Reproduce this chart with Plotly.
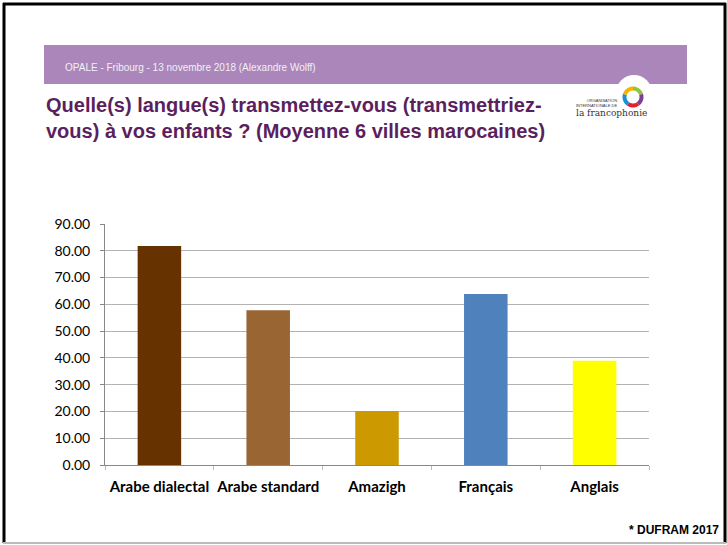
import math
import plotly.graph_objects as go

categories = ["Arabe dialectal", "Arabe standard", "Amazigh", "Français", "Anglais"]
values = [81.8, 57.8, 20.2, 63.9, 38.9]
colors = ["#663300", "#996633", "#CC9900", "#4F81BD", "#FFFF00"]
y_ticks = [0, 10, 20, 30, 40, 50, 60, 70, 80, 90]
y_tick_labels = ["%.2f" % v for v in y_ticks]

W, H = 727, 545
L, R, T, B = 105, 649, 224, 465  # plot area in pixels


def px(x):
    return (x - L) / (R - L)


def py(y):
    return (B - y) / (B - T)


fig = go.Figure()
fig.add_trace(go.Bar(x=categories, y=values, marker=dict(color=colors, line=dict(width=0)),
                     width=0.4, showlegend=False, hoverinfo="x+y"))

shapes = []
# page frame
shapes.append(dict(type="line", xref="paper", yref="paper", x0=px(4), x1=px(4), y0=py(3), y1=py(543),
                   line=dict(color="black", width=3)))
shapes.append(dict(type="line", xref="paper", yref="paper", x0=px(3), x1=px(726), y0=py(4), y1=py(4),
                   line=dict(color="black", width=3)))
shapes.append(dict(type="line", xref="paper", yref="paper", x0=px(725), x1=px(725), y0=py(3), y1=py(543),
                   line=dict(color="black", width=3)))
shapes.append(dict(type="line", xref="paper", yref="paper", x0=px(3), x1=px(726), y0=py(543), y1=py(543),
                   line=dict(color="#bbbbbb", width=2)))
# purple band
shapes.append(dict(type="rect", xref="paper", yref="paper", x0=px(44), x1=px(687), y0=py(45), y1=py(84),
                   fillcolor="#AA86BA", line=dict(width=0), layer="below"))
# white bump for logo
shapes.append(dict(type="circle", xref="paper", yref="paper", x0=px(616), x1=px(652), y0=py(75), y1=py(111),
                   fillcolor="white", line=dict(width=0), layer="below"))

# logo ring (decorative)
ring_colors = ["#8DC63F", "#7B3F98", "#E4202E", "#1C8FD0", "#F7B200"]
cx, cy, r_out, r_in = 633, 97, 10.5, 6.5
for i, col in enumerate(ring_colors):
    a0 = -90 + i * 72
    a1 = a0 + 72
    pts_out = []
    pts_in = []
    for k in range(13):
        a = math.radians(a0 + (a1 - a0) * k / 12)
        pts_out.append((px(cx + r_out * math.cos(a)), py(cy + r_out * math.sin(a))))
        a = math.radians(a1 - (a1 - a0) * k / 12)
        pts_in.append((px(cx + r_in * math.cos(a)), py(cy + r_in * math.sin(a))))
    pts = pts_out + pts_in
    path = "M " + " L ".join("%.5f,%.5f" % p for p in pts) + " Z"
    shapes.append(dict(type="path", xref="paper", yref="paper", path=path, fillcolor=col,
                       line=dict(width=0)))

annotations = [
    dict(text="OPALE - Fribourg - 13 novembre 2018 (Alexandre Wolff)", x=px(63), y=py(67), xref="paper", yref="paper",
         xanchor="left", yanchor="middle", showarrow=False,
         font=dict(family="Liberation Sans", size=10, color="#F4EEF6")),
    dict(text="<b>Quelle(s) langue(s) transmettez-vous (transmettriez-<br>vous) à vos enfants ? (Moyenne 6 villes marocaines)</b>",
         x=px(44), y=py(118), xref="paper", yref="paper", xanchor="left", yanchor="middle", align="left",
         showarrow=False, font=dict(family="Liberation Sans", size=20, color="#5B1F5E")),
    dict(text="ORGANISATION<br>INTERNATIONALE DE", x=px(619), y=py(103), xref="paper", yref="paper",
         xanchor="right", yanchor="middle", align="right", showarrow=False,
         font=dict(family="Liberation Sans", size=4, color="#333333")),
    dict(text="la francophonie", x=px(611), y=py(113), xref="paper", yref="paper",
         xanchor="center", yanchor="middle", showarrow=False,
         font=dict(family="DejaVu Serif", size=9, color="#333333")),
    dict(text="<b>* DUFRAM 2017</b>", x=px(721), y=py(530), xref="paper", yref="paper",
         xanchor="right", yanchor="middle", showarrow=False,
         font=dict(family="Liberation Sans", size=12, color="black")),
]

fig.update_layout(
    width=W, height=H,
    margin=dict(l=L, r=W - R, t=T, b=H - B),
    paper_bgcolor="white", plot_bgcolor="white",
    bargap=0.6,
    shapes=shapes, annotations=annotations,
    xaxis=dict(showline=True, linecolor="#888888", linewidth=1, ticks="outside", tickson="boundaries",
               ticklen=4, tickcolor="#bbbbbb", showgrid=False, tickangle=0, ticklabelstandoff=8,
               tickfont=dict(family="Lato", size=15, color="black"),
               tickprefix="<b>", ticksuffix="</b>"),
    yaxis=dict(range=[0, 90], tickvals=y_ticks, ticktext=y_tick_labels, showline=True, linecolor="#888888",
               linewidth=1, ticks="outside", ticklen=4, tickcolor="#888888", showgrid=True,
               gridcolor="#B3B3B3", gridwidth=1, zeroline=False, ticklabelstandoff=7,
               tickfont=dict(family="Lato", size=14, color="black")),
)

fig.write_html("out.html", config={"displayModeBar": False},
               post_script="document.body.style.margin='0';document.body.style.overflow='hidden';")
